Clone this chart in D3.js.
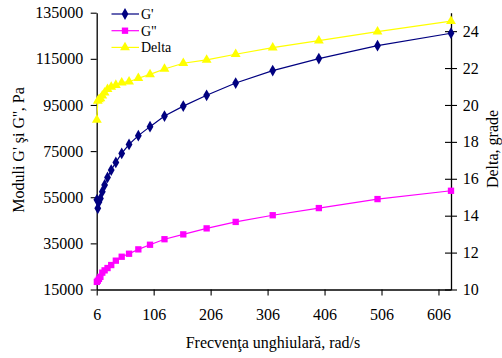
<!DOCTYPE html>
<html>
<head>
<meta charset="utf-8">
<script src="https://cdn.jsdelivr.net/npm/d3@7"></script>
<style>
  html, body { margin: 0; padding: 0; background: #fff; }
  svg { display: block; }
  text { font-family: "Liberation Serif", "Times New Roman", serif; fill: #000; }
</style>
</head>
<body>
<svg id="chart" width="502" height="358"></svg>
<script>
// Angular frequency, rad/s (1 Hz .. 100 Hz, 10 points per decade)
const frequency = [6.28, 7.91, 9.96, 12.5, 15.8, 19.9, 25.0, 31.5, 39.6, 49.9, 62.8,
                   79.1, 99.6, 125, 158, 199, 250, 315, 396, 499, 628];
// Storage modulus G', Pa
const storageModulus = [53900, 50200, 52900, 54500, 57400, 60300, 63600, 66800, 70100, 74000, 77900,
                        81700, 85600, 90200, 94500, 99200, 104500, 109900, 115100, 120700, 126100];
// Loss modulus G'', Pa
const lossModulus = [18300, 18800, 19600, 20500, 22300, 23300, 24300, 25600, 27500, 29200, 30500,
                     32400, 34400, 36800, 38900, 41500, 44300, 47200, 50300, 54200, 57800];
// Phase angle delta, degrees
const delta = [19.19, 20.22, 20.30, 20.36, 20.50, 20.67, 20.85, 20.98, 21.08, 21.21, 21.26,
               21.45, 21.66, 21.95, 22.26, 22.44, 22.75, 23.11, 23.49, 23.97, 24.54];

const xTicks = [6, 106, 206, 306, 406, 506, 606];
const leftTicks = [15000, 35000, 55000, 75000, 95000, 115000, 135000];
const rightTicks = [10, 12, 14, 16, 18, 20, 22, 24];

const seriesNames = ["G'", "G\"", "Delta"];

const svg = d3.select("#chart");
const plotLeft = 96.7, plotRight = 451, plotTop = 12.7, plotBottom = 289.5;

const x = d3.scaleLinear().domain([6, 628]).range([plotLeft, plotRight]);
const yL = d3.scaleLinear().domain([15000, 135000]).range([plotBottom, plotTop]);
const yR = d3.scaleLinear().domain([10, 25]).range([plotBottom, plotTop]);

const fontSize = 16;
const fontFamily = "'Liberation Serif', 'Times New Roman', serif";
const plain = d3.format("d");

function styleAxis(g) {
  g.attr("font-family", fontFamily).attr("font-size", fontSize);
  g.selectAll("text").style("font-family", fontFamily).style("font-size", fontSize + "px");
}

// Bottom axis
const gx = svg.append("g").attr("transform", `translate(0,${plotBottom})`)
  .call(d3.axisBottom(x).tickValues(xTicks).tickFormat(plain).tickSize(6).tickPadding(13).tickSizeOuter(0));
styleAxis(gx);

// Left axis
const gl = svg.append("g").attr("transform", `translate(${plotLeft},0)`)
  .call(d3.axisLeft(yL).tickValues(leftTicks).tickFormat(plain).tickSize(6).tickPadding(7.5).tickSizeOuter(0));
styleAxis(gl);

// Right axis with ticks crossing the line
const gr = svg.append("g").attr("transform", `translate(${plotRight},0)`)
  .call(d3.axisRight(yR).tickValues(rightTicks).tickFormat(plain).tickSize(6).tickPadding(5.7).tickSizeOuter(0));
gr.selectAll(".tick line").attr("x1", -6);
styleAxis(gr);

svg.selectAll(".domain").attr("stroke", "#000").attr("stroke-width", 1.3);
svg.selectAll(".tick line").attr("stroke", "#000").attr("stroke-width", 1.1);

const data = frequency.map((f, i) => ({ f, g1: storageModulus[i], g2: lossModulus[i], d: delta[i] }));

const series = [
  { name: seriesNames[0], color: "#000080", key: "g1", y: yL, symbol: d3.symbolDiamond, size: 40 },
  { name: seriesNames[1], color: "#FF00FF", key: "g2", y: yL, symbol: d3.symbolSquare, size: 40 },
  { name: seriesNames[2], color: "#FFFF00", key: "d",  y: yR, symbol: d3.symbolTriangle, size: 42 }
];

const plot = svg.append("g");
// Draw Delta first, then G'', then G'
[series[2], series[1], series[0]].forEach(s => {
  const line = d3.line().x(d => x(d.f)).y(d => s.y(d[s.key]));
  plot.append("path").datum(data)
    .attr("fill", "none").attr("stroke", s.color).attr("stroke-width", 1.2)
    .attr("d", line);
  plot.selectAll(null).data(data).enter().append("path")
    .attr("transform", d => `translate(${x(d.f)},${s.y(d[s.key])})`)
    .attr("d", d3.symbol().type(s.symbol).size(s.size))
    .attr("fill", s.color);
});

// Legend
const legend = svg.append("g");
series.forEach((s, i) => {
  const ly = 14 + i * 16.7;
  legend.append("line").attr("x1", 111.5).attr("x2", 139).attr("y1", ly).attr("y2", ly)
    .attr("stroke", s.color).attr("stroke-width", 1.2);
  legend.append("path").attr("transform", `translate(125,${ly})`)
    .attr("d", d3.symbol().type(s.symbol).size(s.size)).attr("fill", s.color);
  legend.append("text").attr("x", 141).attr("y", ly + 4.8)
    .style("font-size", "14px").text(s.name);
});

// Axis titles
svg.append("text").attr("x", 273).attr("y", 348).attr("text-anchor", "middle")
  .style("font-size", fontSize + "px").text("Frecvenţa unghiulară, rad/s");
svg.append("text").attr("transform", "translate(24,150) rotate(-90)").attr("text-anchor", "middle")
  .style("font-size", fontSize + "px").text("Moduli G' şi G'', Pa");
svg.append("text").attr("transform", "translate(498,149) rotate(-90)").attr("text-anchor", "middle")
  .style("font-size", fontSize + "px").text("Delta, grade");
</script>
</body>
</html>
